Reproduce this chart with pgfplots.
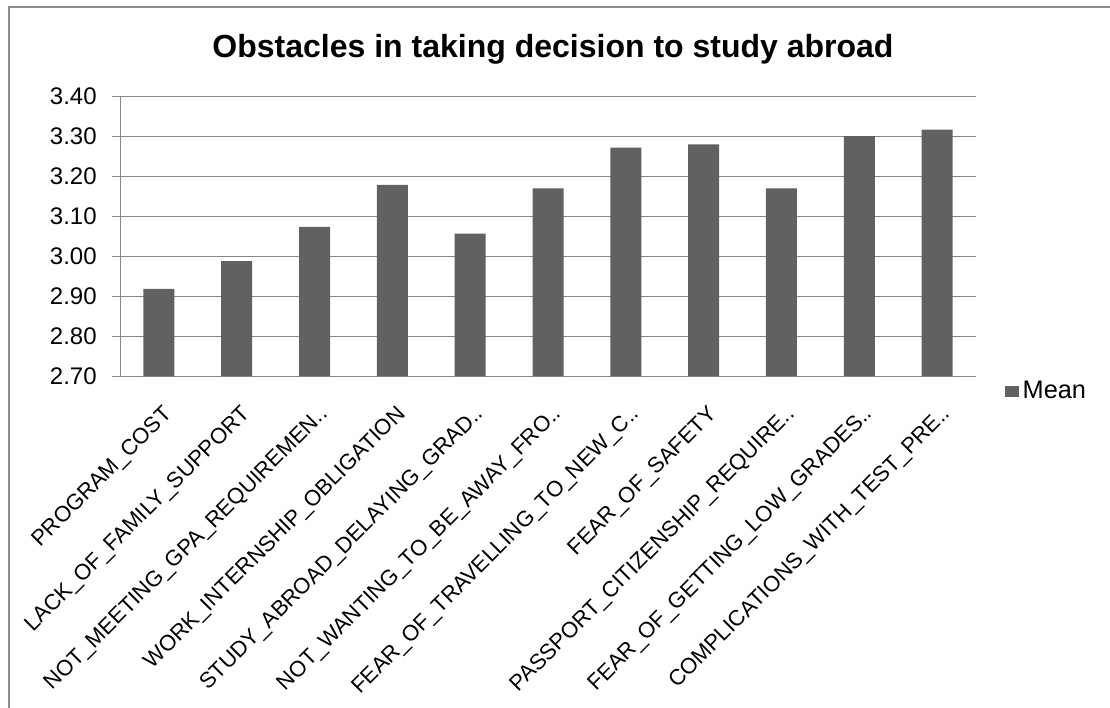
\documentclass[border=0pt]{standalone}
\usepackage{fontspec}
\setmainfont{Liberation Sans}
\usepackage{pgfplots}
\pgfplotsset{compat=1.18}
\definecolor{barcol}{HTML}{616161}
\definecolor{linecol}{HTML}{878787}
\definecolor{framecol}{HTML}{8E8E8E}

\begin{document}
\begin{tikzpicture}
\path[use as bounding box] (0,0) rectangle (832.5pt,530.25pt);
% chart frame
\draw[framecol, line width=1.5pt] (6.75pt,-5pt) -- (6.75pt,525pt) -- (840pt,525pt);
\node[font=\bfseries\fontsize{24}{28}\selectfont, anchor=base] at (414.75pt,486.75pt)
  {Obstacles in taking decision to study abroad};
\begin{axis}[
  at={(90pt,248.25pt)}, anchor=south west,
  scale only axis, width=642pt, height=210pt,
  xmin=-0.5, xmax=10.5, ymin=2.7, ymax=3.4,
  ytick={2.7,2.8,2.9,3.0,3.1,3.2,3.3,3.4},
  xtick={0,...,10},
  xticklabels={PROGRAM\_COST, LACK\_OF\_FAMILY\_SUPPORT, NOT\_MEETING\_GPA\_REQUIREMEN.., WORK\_INTERNSHIP\_OBLIGATION, STUDY\_ABROAD\_DELAYING\_GRAD.., NOT\_WANTING\_TO\_BE\_AWAY\_FRO.., FEAR\_OF\_TRAVELLING\_TO\_NEW\_C.., FEAR\_OF\_SAFETY, PASSPORT\_CITIZENSHIP\_REQUIRE.., FEAR\_OF\_GETTING\_LOW\_GRADES.., COMPLICATIONS\_WITH\_TEST\_PRE..},
  xtick style={draw=none},
  extra x ticks={-0.5,0.5,...,10.5},
  extra x tick labels={},
  extra x tick style={major tick length=4.5pt, tick align=outside, xmajorgrids=false,
    tick style={linecol, line width=0.75pt}},
  axis lines=left,
  axis line style={-, linecol, line width=0.75pt},
  ytick style={linecol, line width=0.75pt},
  tick align=outside, major tick length=6pt,
  ymajorgrids, grid style={linecol, line width=0.75pt},
  /pgf/number format/assume math mode=true,
  yticklabel style={font=\fontsize{18}{21}\selectfont, xshift=-8pt,
    /pgf/number format/.cd, fixed, fixed zerofill, precision=2},
  xticklabel style={xshift=2.25pt, yshift=-15pt, rotate=45, anchor=north east,
    inner sep=0pt, font=\fontsize{16.5}{19}\selectfont},
  ybar, bar width=23.25pt,
  legend style={at={(1.034,-0.054)}, anchor=west, draw=none, fill=none,
    font=\fontsize{19}{22}\selectfont, inner sep=0pt,
    nodes={inner sep=2.5pt}},
  legend image code/.code={\fill[barcol] (0pt,-4.1pt) rectangle (10.5pt,4.1pt);},
]
\addplot[fill=barcol, draw=none] coordinates {
  (0,2.918) (1,2.987) (2,3.073) (3,3.178) (4,3.056) (5,3.169)
  (6,3.271) (7,3.279) (8,3.169) (9,3.300) (10,3.316)};
\addlegendentry{Mean}
\end{axis}
\end{tikzpicture}
\end{document}
